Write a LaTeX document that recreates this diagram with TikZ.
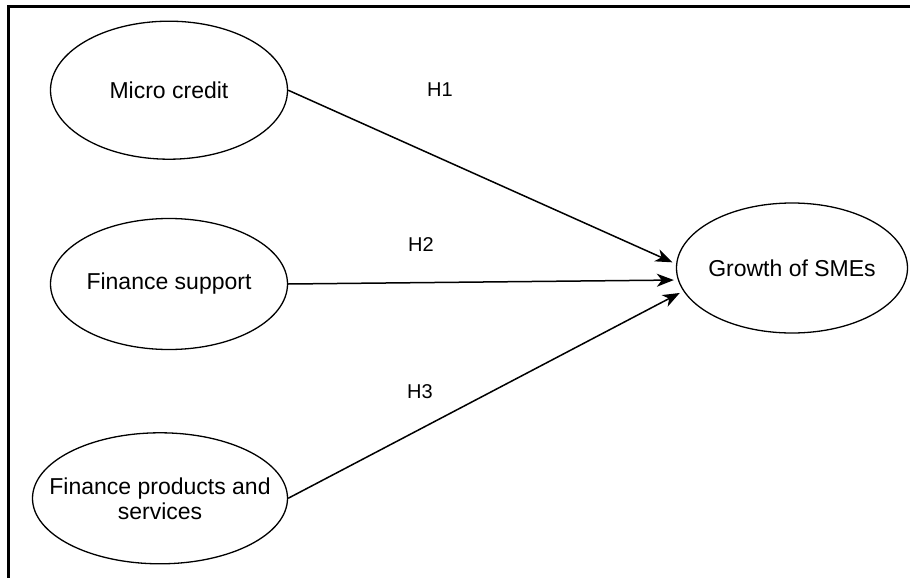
\documentclass[tikz,border=0pt]{standalone}
\usepackage{fontspec}
\setmainfont{Liberation Sans}
\usetikzlibrary{shapes.geometric, arrows.meta, positioning}

\begin{document}
\begin{tikzpicture}[
    x=1pt, y=-1pt,
    font=\fontsize{23}{25}\selectfont,
    oval/.style={draw, ellipse, line width=1.3pt, minimum width=237pt, minimum height=134pt, inner sep=0pt, inner xsep=-12pt, align=center},
    hyp/.style={font=\fontsize{20}{22}\selectfont},
    link/.style={-{Stealth[length=17pt, width=13pt, inset=5pt]}, line width=1.5pt, shorten >=4pt}
]
    \useasboundingbox (0,0) rectangle (910,578);
    % frame (only top and left edges are visible)
    \coordinate (frametop) at (910,6.3);
    \coordinate (framecorner) at (8.7,6.3);
    \coordinate (framebottom) at (8.7,578);
    \draw[line width=2.7pt] (frametop) -- (framecorner) -- (framebottom);

    \node[oval, minimum height=131pt] (support) at (169,284) {Finance support};
    \node[oval, above=58pt of support, minimum height=138pt] (credit) {Micro credit};
    \node[oval, below=82pt of support, xshift=-9pt, minimum width=255pt, minimum height=131pt, inner xsep=-22pt] (products) {Finance products and\\services};
    \node[oval, minimum width=231pt, minimum height=130pt] (growth) at (792,268) {Growth of SMEs};

    \draw[link] (credit.east) -- (growth.178);
    \draw[link] (support.east) -- (growth.186);
    \draw[link] (products.east) -- (growth.192);

    \node[hyp] (h1) at (440,90) {H1};
    \node[hyp] (h2) at (421,245) {H2};
    \node[hyp] (h3) at (420,392) {H3};
\end{tikzpicture}
\end{document}
